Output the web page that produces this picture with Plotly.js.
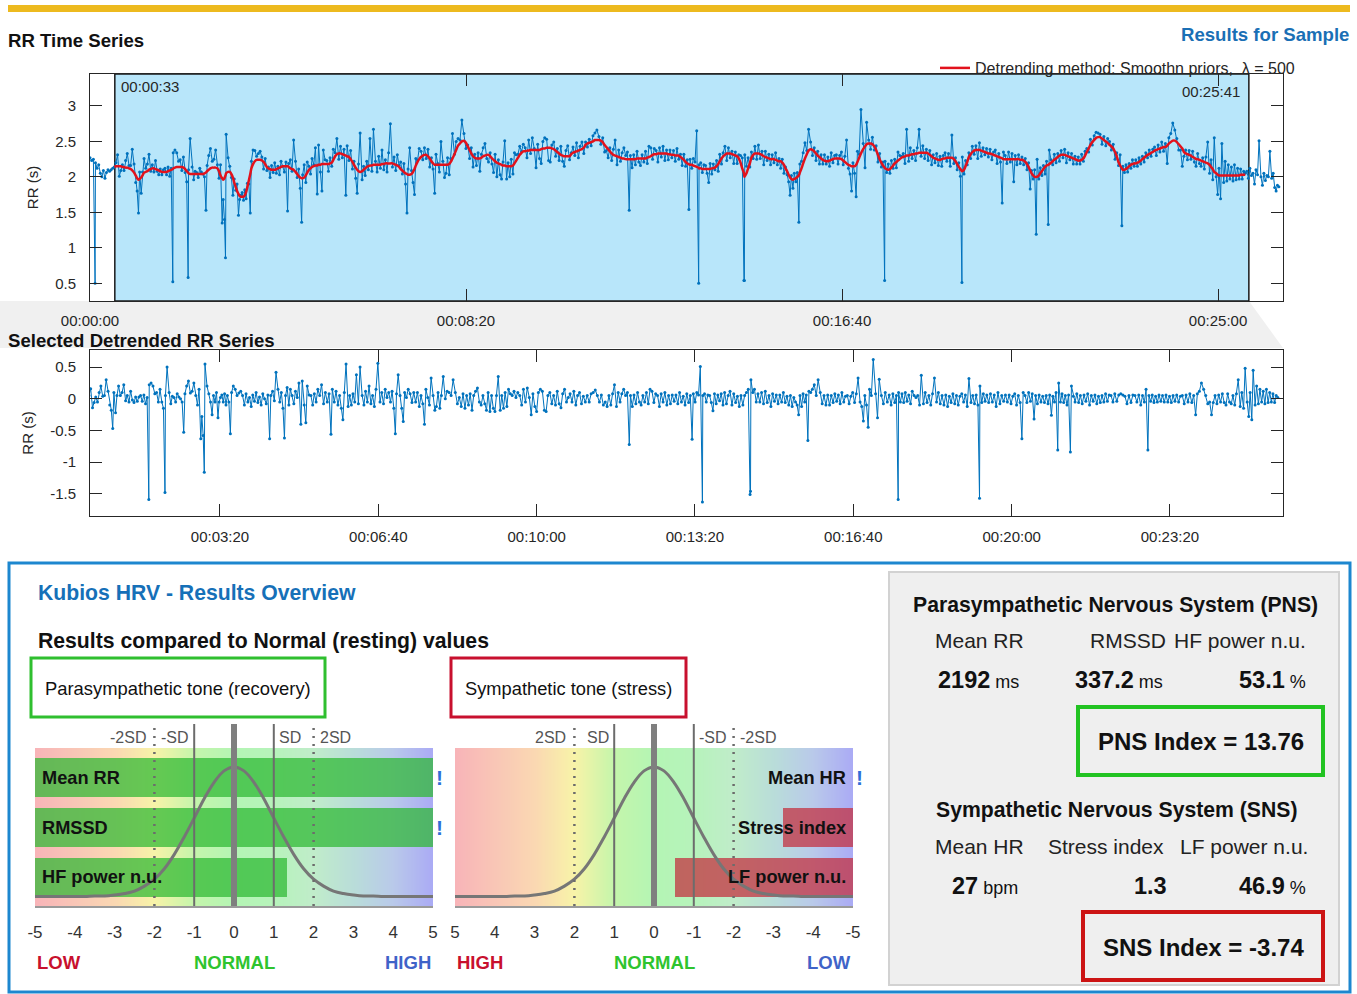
<!DOCTYPE html>
<html>
<head>
<meta charset="utf-8">
<script src="https://cdn.plot.ly/plotly-3.0.1.min.js"></script>
<style>
html,body{margin:0;padding:0;background:#ffffff;}
#chart{width:1357px;height:994px;}
</style>
</head>
<body>
<div id="chart"></div>
<script>
// ---------------- DATA ----------------
// RR intervals (s) before the selected analysis window
const rrPre = [2.27,2.23,2.25,0.50,2.20,2.12,2.17,2.05,2.00,2.09,1.98,2.06,2.10,2.08,2.10,2.12];
// RR intervals (s) inside the selected window 00:00:33 - 00:25:41
const rrSelected = [
2.14,2.20,2.31,2.01,2.09,2.17,2.09,2.23,2.33,2.16,
2.16,2.39,2.18,1.92,1.80,1.49,2.07,1.77,2.07,2.26,2.12,
2.18,2.32,2.08,2.17,2.07,2.23,2.08,2.03,2.11,2.03,2.10,
2.12,2.03,2.14,2.01,2.12,0.52,2.34,2.38,2.34,2.22,
2.24,2.09,2.28,2.06,1.93,0.58,2.10,2.54,2.14,1.96,2.08,
2.06,1.99,2.12,2.07,2.04,2.00,1.53,2.16,2.30,2.40,2.22,
2.25,2.38,2.17,1.98,2.17,1.35,1.68,1.40,0.86,2.60,
2.27,2.15,1.99,1.74,1.97,1.81,1.90,1.46,1.68,1.74,1.78,
1.67,1.82,1.69,1.91,1.90,1.49,2.22,2.38,2.37,2.29,2.33,
2.36,2.28,2.11,2.26,2.09,2.14,1.99,2.16,2.06,2.20,
2.05,2.15,2.03,2.22,2.15,2.07,2.21,1.52,2.19,2.24,2.08,
2.52,2.22,1.99,2.11,1.84,1.36,2.03,2.17,1.92,2.21,
2.15,2.04,2.26,2.17,2.41,1.76,2.45,2.07,1.80,2.38,2.24,
2.23,2.08,2.27,2.15,2.39,2.34,2.54,2.25,2.43,2.27,
2.39,1.74,2.44,2.23,2.37,2.11,2.22,1.98,1.77,2.18,
2.62,1.96,2.15,2.02,2.22,2.10,2.54,2.08,2.67,2.22,
2.07,2.29,2.12,2.38,2.10,2.24,2.07,2.34,2.75,2.14,
2.28,2.09,2.31,2.16,2.21,2.04,2.19,1.90,1.49,2.11,
2.41,2.09,1.92,1.75,2.26,2.23,2.40,2.36,2.24,2.41,
2.26,2.39,2.14,2.27,2.11,1.77,2.32,2.19,2.07,2.50,
2.22,1.99,2.05,2.27,2.03,2.26,2.61,2.32,2.50,2.54,
2.52,2.80,2.61,2.40,2.45,2.26,2.41,2.14,2.32,
2.16,2.34,2.08,2.32,2.41,2.47,2.26,2.21,2.34,
2.18,2.06,2.32,2.00,2.24,2.03,1.97,2.21,2.51,1.97,
2.20,2.00,2.25,2.04,2.34,2.31,2.32,2.43,2.36,2.46,
2.41,2.27,2.52,2.33,2.55,2.40,2.13,2.46,2.26,
2.19,2.50,2.55,2.53,2.23,2.21,2.45,2.49,2.29,
2.40,2.23,2.43,2.22,2.15,2.37,2.44,2.24,2.34,
2.42,2.30,2.48,2.27,2.43,2.49,2.33,2.49,2.42,
2.53,2.44,2.58,2.62,2.66,2.57,2.46,2.55,2.35,
2.37,2.27,2.41,2.23,2.39,2.52,2.17,2.38,2.22,2.34,
2.41,2.30,2.35,1.53,2.30,2.13,2.31,2.17,2.36,2.21,
2.16,2.31,2.21,2.36,2.19,2.43,2.41,2.25,2.40,
2.37,2.21,2.41,2.28,2.43,2.23,2.38,2.24,2.38,2.27,
2.37,2.22,2.40,2.25,2.32,2.16,2.32,2.15,2.24,1.54,
2.25,2.12,2.26,2.21,2.65,0.50,2.17,2.20,2.06,2.17,
2.16,2.05,1.92,2.19,2.04,2.18,2.10,2.23,2.08,2.32,
2.18,2.34,2.43,2.23,2.41,2.27,2.36,2.19,2.35,2.19,
2.31,2.30,2.27,0.54,0.54,2.31,2.15,2.27,2.14,2.35,
2.26,2.43,2.25,2.45,2.26,2.36,2.17,2.36,2.23,2.32,
2.17,2.31,2.20,2.34,2.17,2.26,2.12,2.25,2.05,2.14,
2.03,1.93,1.74,2.02,1.84,2.05,1.93,2.06,1.36,2.18,
2.22,2.34,2.48,2.37,2.67,2.49,2.30,2.41,2.23,2.36,
2.18,2.31,2.18,2.31,2.18,2.28,2.15,2.34,2.20,2.30,
2.31,2.18,2.30,2.35,2.17,2.29,2.52,2.12,2.04,1.80,
2.20,2.05,1.72,2.36,2.32,2.95,2.47,2.13,2.77,2.52,
2.39,2.56,2.38,2.44,2.21,2.33,2.14,2.21,0.54,2.22,
2.06,2.18,2.05,2.23,2.12,2.25,2.13,2.35,2.30,2.29,
2.33,2.19,2.67,2.22,2.41,2.26,2.37,2.23,2.41,2.67,
2.29,2.44,2.26,2.39,2.23,2.37,2.17,2.31,2.20,2.33,
2.16,2.29,2.15,2.30,2.34,2.22,2.33,2.15,2.59,2.19,
2.27,2.10,2.20,2.01,0.51,2.28,2.04,2.23,2.17,2.34,
2.26,2.43,2.32,2.44,2.26,2.48,2.29,2.41,2.31,2.40,
2.28,2.39,2.24,2.35,2.38,2.19,2.33,2.21,1.63,2.35,
2.30,2.19,2.35,2.21,2.33,1.93,2.30,2.17,2.31,2.19,
2.28,2.17,2.26,2.10,2.20,1.83,2.09,1.97,2.10,1.19,
2.25,1.97,2.13,2.02,2.16,2.04,2.22,1.33,2.38,2.24,
2.17,2.32,2.20,2.33,2.22,2.37,2.27,2.39,2.20,2.34,
2.24,2.33,2.18,2.29,2.18,2.28,2.18,2.32,2.22,2.36,
2.40,2.35,2.53,2.45,2.58,2.63,2.62,2.60,2.46,
2.57,2.44,2.54,2.50,2.38,2.46,2.25,2.34,2.16,
2.31,1.31,2.15,2.06,2.17,2.07,2.19,2.12,2.24,2.15,
2.24,2.15,2.27,2.18,2.29,2.21,2.34,2.27,2.38,2.29,
2.39,2.42,2.30,2.45,2.35,2.49,2.36,2.47,2.19,
2.55,2.61,2.76,2.66,2.54,2.38,2.38,2.15,2.29,
2.38,2.24,2.37,2.25,2.36,2.21,2.15,2.33,2.19,
2.15,2.27,2.11,2.28,2.49,2.05,2.24,1.96,2.55,
2.00,1.75,2.12,1.69,2.47,1.92,2.22,1.94,2.17,1.97,
2.14,1.94,2.17,1.96,2.12,1.97,2.11,1.97,2.08,2.05
];
// Smoothness-priors trend (s) at each selected beat
const trendSelected = [
2.14,2.15,2.15,2.15,2.15,2.14,2.14,2.13,2.13,2.12,
2.11,2.09,2.06,2.02,1.98,1.96,1.97,1.99,2.02,2.06,2.07,
2.08,2.10,2.11,2.12,2.12,2.11,2.10,2.09,2.08,2.07,2.07,
2.07,2.07,2.08,2.09,2.10,2.11,2.12,2.13,2.14,2.14,
2.14,2.14,2.13,2.11,2.08,2.06,2.05,2.04,2.04,2.04,2.04,
2.04,2.04,2.04,2.04,2.04,2.05,2.06,2.08,2.10,2.12,2.13,
2.13,2.13,2.12,2.08,2.02,1.98,1.96,1.98,2.02,2.05,
2.07,2.07,2.04,1.99,1.92,1.86,1.80,1.76,1.73,1.72,1.72,
1.72,1.74,1.79,1.86,1.95,2.04,2.12,2.18,2.22,2.24,2.24,
2.24,2.23,2.21,2.18,2.14,2.12,2.11,2.10,2.10,2.10,
2.11,2.12,2.13,2.14,2.15,2.15,2.15,2.15,2.14,2.12,2.11,
2.10,2.07,2.04,2.01,1.99,1.98,1.98,1.99,2.02,2.06,
2.10,2.12,2.14,2.15,2.16,2.16,2.17,2.17,2.18,2.18,2.18,
2.18,2.18,2.19,2.20,2.24,2.29,2.32,2.33,2.33,2.32,
2.31,2.30,2.29,2.28,2.25,2.21,2.17,2.13,2.10,2.08,
2.07,2.08,2.10,2.12,2.14,2.15,2.16,2.16,2.17,2.17,
2.17,2.17,2.17,2.18,2.18,2.19,2.19,2.19,2.19,2.19,
2.18,2.17,2.16,2.14,2.11,2.09,2.07,2.05,2.04,2.03,
2.03,2.04,2.07,2.11,2.16,2.21,2.25,2.28,2.30,2.31,
2.31,2.29,2.26,2.22,2.19,2.17,2.17,2.17,2.17,2.17,
2.17,2.17,2.17,2.17,2.18,2.21,2.26,2.32,2.38,2.44,
2.47,2.50,2.51,2.48,2.43,2.38,2.33,2.29,2.27,
2.26,2.26,2.26,2.27,2.29,2.30,2.31,2.31,2.29,
2.26,2.24,2.22,2.20,2.19,2.18,2.17,2.16,2.16,2.15,
2.15,2.15,2.15,2.16,2.19,2.23,2.27,2.31,2.34,2.36,
2.36,2.37,2.37,2.38,2.38,2.38,2.38,2.38,2.38,
2.39,2.40,2.40,2.41,2.41,2.41,2.40,2.39,2.37,
2.35,2.33,2.31,2.30,2.29,2.29,2.29,2.29,2.32,
2.34,2.35,2.36,2.37,2.38,2.39,2.41,2.45,2.47,
2.48,2.49,2.50,2.52,2.52,2.52,2.51,2.49,2.45,
2.42,2.39,2.36,2.33,2.31,2.30,2.29,2.28,2.27,2.26,
2.26,2.25,2.25,2.25,2.25,2.25,2.25,2.25,2.26,2.26,
2.26,2.26,2.26,2.26,2.27,2.28,2.29,2.31,2.32,
2.32,2.33,2.33,2.33,2.33,2.33,2.33,2.32,2.32,2.31,
2.31,2.30,2.30,2.30,2.28,2.26,2.24,2.21,2.19,2.18,
2.17,2.17,2.16,2.15,2.14,2.13,2.12,2.12,2.11,2.11,
2.11,2.11,2.11,2.11,2.12,2.12,2.13,2.15,2.18,2.22,
2.26,2.29,2.31,2.33,2.33,2.33,2.32,2.31,2.30,2.29,
2.26,2.20,2.12,2.05,2.00,2.01,2.05,2.12,2.19,2.27,
2.31,2.33,2.33,2.33,2.32,2.31,2.29,2.28,2.27,2.26,
2.25,2.25,2.25,2.24,2.23,2.22,2.22,2.20,2.17,2.12,
2.08,2.03,1.99,1.97,1.96,1.97,1.98,2.00,2.02,2.06,
2.12,2.19,2.26,2.32,2.37,2.39,2.38,2.36,2.33,2.30,
2.28,2.26,2.24,2.23,2.22,2.22,2.23,2.24,2.25,2.26,
2.26,2.26,2.26,2.25,2.23,2.21,2.19,2.17,2.16,2.15,
2.15,2.15,2.17,2.21,2.27,2.33,2.39,2.43,2.46,2.47,
2.47,2.46,2.43,2.38,2.31,2.25,2.20,2.16,2.13,2.12,
2.11,2.10,2.11,2.13,2.16,2.19,2.21,2.23,2.25,2.27,
2.28,2.29,2.30,2.30,2.31,2.32,2.32,2.33,2.33,2.34,
2.34,2.34,2.34,2.34,2.33,2.31,2.29,2.27,2.26,2.25,
2.24,2.24,2.25,2.26,2.26,2.27,2.27,2.27,2.27,2.25,
2.22,2.18,2.14,2.11,2.08,2.08,2.10,2.15,2.21,2.28,
2.32,2.35,2.37,2.38,2.38,2.38,2.37,2.36,2.35,2.34,
2.33,2.33,2.32,2.31,2.30,2.29,2.28,2.27,2.26,2.25,
2.25,2.25,2.25,2.25,2.25,2.25,2.25,2.25,2.25,2.24,
2.24,2.23,2.21,2.18,2.14,2.09,2.05,2.02,2.00,2.00,
2.00,2.02,2.05,2.08,2.11,2.14,2.16,2.17,2.18,2.20,
2.22,2.24,2.26,2.28,2.30,2.31,2.31,2.31,2.30,2.29,
2.28,2.27,2.26,2.25,2.24,2.23,2.23,2.24,2.26,2.30,
2.35,2.40,2.45,2.49,2.52,2.55,2.56,2.56,2.54,
2.52,2.50,2.48,2.45,2.43,2.40,2.35,2.29,2.21,
2.16,2.12,2.10,2.10,2.11,2.13,2.15,2.17,2.18,2.19,
2.19,2.20,2.21,2.23,2.25,2.27,2.29,2.31,2.32,2.34,
2.35,2.37,2.38,2.39,2.40,2.41,2.42,2.42,2.44,
2.47,2.49,2.51,2.51,2.49,2.46,2.43,2.40,2.35,
2.33,2.32,2.31,2.30,2.28,2.27,2.25,2.25,2.24,
2.23,2.22,2.21,2.20,2.19,2.17,2.14,2.11,2.07,
2.05,2.03,2.02,2.02,2.02,2.02,2.02,2.02,2.02,2.02,
2.02,2.02,2.02,2.02,2.02,2.02,2.03,2.03,2.03,2.03
];
// RR intervals (s) after the selected window
const rrPost = [2.08,1.98,2.12,2.02,2.05,1.90,2.10,2.03,2.51,2.00,1.88,2.05,1.95,2.02,2.00,2.36,1.98,2.05,1.85,1.80,1.88,1.86];

const selectionStart = 33;      // s
const selectionEnd = 1541;      // s
const selectionLabels = ['00:00:33', '00:25:41'];
const trendLegend = 'Detrending method: Smoothn priors,  \u03bb = 500';

const topTickSeconds = [0, 500, 1000, 1500];
const topTickLabels = ['00:00:00', '00:08:20', '00:16:40', '00:25:00'];
const rrTickValues = [0.5, 1, 1.5, 2, 2.5, 3];
const rrTickLabels = ['0.5', '1', '1.5', '2', '2.5', '3'];
const bottomTickSeconds = [200, 400, 600, 800, 1000, 1200, 1400];
const bottomTickLabels = ['00:03:20', '00:06:40', '00:10:00', '00:13:20', '00:16:40', '00:20:00', '00:23:20'];
const detTickValues = [-1.5, -1, -0.5, 0, 0.5];
const detTickLabels = ['-1.5', '-1', '-0.5', '0', '0.5'];

// Results overview (scores in SD units relative to normal resting values)
const gaugeTicks = [-5, -4, -3, -2, -1, 0, 1, 2, 3, 4, 5];
const gaugeTickLabels = ['-5', '-4', '-3', '-2', '-1', '0', '1', '2', '3', '4', '5'];
const pnsParams = ['Mean RR', 'RMSSD', 'HF power n.u.'];
const pnsScores = [5.6, 5.4, 1.33];
const snsParams = ['Mean HR', 'Stress index', 'LF power n.u.'];
const snsScores = [-5.6, -3.24, -0.53];
const sdMarks = [-2, -1, 0, 1, 2];
const sdLabels = ['-2SD', '-SD', '', 'SD', '2SD'];
const normalCurveX = [-5,-4.75,-4.5,-4.25,-4,-3.75,-3.5,-3.25,-3,-2.75,-2.5,-2.25,-2,-1.75,-1.5,-1.25,-1,-0.75,-0.5,-0.25,0,
  0.25,0.5,0.75,1,1.25,1.5,1.75,2,2.25,2.5,2.75,3,3.25,3.5,3.75,4,4.25,4.5,4.75,5];
const normalCurveY = [-0.39,-0.39,-0.39,-0.39,-0.39,-0.39,-0.38,-0.38,-0.36,-0.33,-0.28,-0.18,-0.04,0.17,0.46,0.81,1.19,1.58,1.91,2.14,2.22,
  2.14,1.91,1.58,1.19,0.81,0.46,0.17,-0.04,-0.18,-0.28,-0.33,-0.36,-0.38,-0.38,-0.39,-0.39,-0.39,-0.39,-0.39,-0.39];
const gradientColors = ['#f8b4b8','#f9c6b6','#fad8b2','#f8f3a8','#c4f5ab','#b4f5b4','#b6f3bb','#c0ecca','#b9ddd9','#b9c9ea','#aaaaf5'];

const pnsSummaryLabels = ['Mean RR', 'RMSSD', 'HF power n.u.'];
const pnsSummaryValues = ['2192', '337.2', '53.1'];
const pnsSummaryUnits = ['ms', 'ms', '%'];
const pnsIndex = '13.76';
const snsSummaryLabels = ['Mean HR', 'Stress index', 'LF power n.u.'];
const snsSummaryValues = ['27', '1.3', '46.9'];
const snsSummaryUnits = ['bpm', '', '%'];
const snsIndex = '-3.74';

// ---------------- DERIVED ----------------
const nSel = Math.min(rrSelected.length, trendSelected.length);
const allRR = rrPre.concat(rrSelected, rrPost);
let acc = 0;
const allT = allRR.map(v => { const cur = acc; acc += v; return cur; });
const selT = allT.slice(rrPre.length, rrPre.length + nSel);
const trendUsed = trendSelected.slice(0, nSel);
const detrended = rrSelected.slice(0, nSel).map((v, i) => v - trendSelected[i]);

// ---------------- HELPERS ----------------
const W = 1357, H = 994;
const px = x => x / W;
const py = y => 1 - y / H;
const SANS = "'Liberation Sans', Arial, Helvetica, sans-serif";
const AX = '#262626';
const BLUE = '#0072BD';
const RED = '#e2121c';
const GAUGE_YRANGE = [-0.58, 2.6];

const annotations = [];
const shapes = [];
function addText(text, x, y, anchor, font, extra) {
  annotations.push(Object.assign({
    text: text, x: px(x), y: py(y), xref: 'paper', yref: 'paper',
    xanchor: anchor || 'left', yanchor: 'middle', showarrow: false,
    font: Object.assign({ family: SANS, size: 15, color: AX }, font || {})
  }, extra || {}));
}
function rectPx(x0, y0, x1, y1, fill, lineColor, lineWidth, layer) {
  shapes.push({
    type: 'rect', xref: 'paper', yref: 'paper',
    x0: px(x0), x1: px(x1), y0: py(y1), y1: py(y0),
    fillcolor: fill, line: { color: lineColor || 'rgba(0,0,0,0)', width: lineWidth || 0 },
    layer: layer || 'above'
  });
}

// ---------------- TRACES ----------------
const traces = [];
traces.push({
  type: 'scatter', mode: 'lines+markers', x: allT, y: allRR, xaxis: 'x', yaxis: 'y',
  line: { color: BLUE, width: 1 }, marker: { color: BLUE, size: 3 },
  showlegend: false, hoverinfo: 'skip'
});
traces.push({
  type: 'scatter', mode: 'lines', x: selT, y: trendUsed, xaxis: 'x', yaxis: 'y',
  line: { color: RED, width: 2.5, shape: 'spline', smoothing: 0.8 },
  name: trendLegend, showlegend: true, hoverinfo: 'skip'
});
traces.push({
  type: 'scatter', mode: 'lines+markers', x: selT, y: detrended, xaxis: 'x2', yaxis: 'y2',
  line: { color: BLUE, width: 1 }, marker: { color: BLUE, size: 3 },
  showlegend: false, hoverinfo: 'skip'
});

const gradIdx = gradientColors.map((c, i) => i);
const gradScale = gradientColors.map((c, i) => [i / (gradientColors.length - 1), c]);
const rowPos = params => params.map((p, i) => params.length - 1 - i);

function addGauge(xa, ya, heatX, params, scores, barColor) {
  traces.push({
    type: 'heatmap', x: heatX, y: GAUGE_YRANGE, z: [gradIdx, gradIdx],
    zmin: 0, zmax: gradientColors.length - 1, colorscale: gradScale, zsmooth: 'best',
    showscale: false, hoverinfo: 'skip', xaxis: xa, yaxis: ya
  });
  traces.push({
    type: 'bar', orientation: 'h', y: rowPos(params), x: scores.map(s => s + 5), base: -5,
    width: 0.78, marker: { color: barColor, line: { width: 0 } },
    showlegend: false, hoverinfo: 'skip', xaxis: xa, yaxis: ya
  });
  traces.push({
    type: 'scatter', mode: 'lines', x: normalCurveX, y: normalCurveY,
    line: { color: '#767676', width: 3, shape: 'spline' },
    showlegend: false, hoverinfo: 'skip', xaxis: xa, yaxis: ya
  });
}
addGauge('x3', 'y3', gaugeTicks, pnsParams, pnsScores, 'rgba(45,185,50,0.72)');
addGauge('x4', 'y4', gaugeTicks.slice().reverse(), snsParams, snsScores, 'rgba(195,45,60,0.72)');

// ---------------- SHAPES ----------------
rectPx(8, 5, 1350, 12, '#edba1f', null, 0, 'below');
shapes.push({
  type: 'path', xref: 'paper', yref: 'paper', layer: 'below',
  path: 'M ' + px(0) + ',' + py(301) + ' L ' + px(1249) + ',' + py(301) + ' L ' + px(1283) + ',' + py(348) + ' L ' + px(0) + ',' + py(348) + ' Z',
  fillcolor: '#f0f0f0', line: { width: 0 }
});
shapes.push({
  type: 'rect', xref: 'x', yref: 'y domain', x0: selectionStart, x1: selectionEnd, y0: 0, y1: 1,
  fillcolor: '#b8e6fa', line: { color: '#1a1a1a', width: 1.5 }, layer: 'below'
});
rectPx(9, 563, 1350, 992, 'rgba(0,0,0,0)', '#1d87cf', 3, 'below');
rectPx(889, 572, 1339, 985, '#efefef', '#d2d2d2', 2, 'below');
rectPx(31, 658, 325, 717, '#ffffff', '#2fbf2f', 3, 'below');
rectPx(451, 658, 686, 717, '#ffffff', '#c8102e', 3, 'below');
rectPx(1078, 707, 1323, 775, 'rgba(0,0,0,0)', '#22c322', 4, 'above');
rectPx(1083, 912, 1323, 980, 'rgba(0,0,0,0)', '#cc1414', 4, 'above');

function addSdLines(xa) {
  sdMarks.forEach(v => {
    const a = Math.abs(v);
    shapes.push({
      type: 'line', xref: xa, yref: 'paper', x0: v, x1: v,
      y0: py(906), y1: py(a === 2 ? 728 : 724), layer: 'above',
      line: {
        color: a === 0 ? '#7f7f7f' : '#6c6c6c',
        width: a === 0 ? 6 : (a === 1 ? 2 : 2.5),
        dash: a === 2 ? '2px,6px' : 'solid'
      }
    });
  });
}
addSdLines('x3');
addSdLines('x4');

// ---------------- TEXT ----------------
addText('<b>RR Time Series</b>', 6, 40, 'left', { size: 18.6, color: '#111' });
addText('<b>Results for Sample</b>', 1351, 34, 'right', { size: 18.6, color: '#1a6fb5' });
addText('<b>Selected Detrended RR Series</b>', 6, 340, 'left', { size: 18.6, color: '#111' });
annotations.push({ text: selectionLabels[0], xref: 'x', yref: 'paper', x: selectionStart, y: py(86),
  xanchor: 'left', yanchor: 'middle', xshift: 4, showarrow: false, font: { family: SANS, size: 15, color: AX } });
annotations.push({ text: selectionLabels[1], xref: 'x', yref: 'paper', x: selectionEnd, y: py(92),
  xanchor: 'right', yanchor: 'middle', xshift: -7, showarrow: false, font: { family: SANS, size: 15, color: AX } });

addText('<b>Kubios HRV - Results Overview</b>', 36, 592, 'left', { size: 21.2, color: '#1670b8' });
addText('<b>Results compared to Normal (resting) values</b>', 36, 641, 'left', { size: 21.2, color: '#111' });
addText('Parasympathetic tone (recovery)', 43, 688, 'left', { size: 18.4, color: '#111' });
addText('Sympathetic tone (stress)', 463, 688, 'left', { size: 18.3, color: '#111' });

function gaugeText(xa, params, scores, reversed) {
  const rows = rowPos(params);
  const ya = 'y' + xa.slice(1);
  params.forEach((p, i) => {
    annotations.push({ text: '<b>' + p + '</b>', xref: xa, yref: ya,
      x: -5, y: rows[i], xanchor: reversed ? 'right' : 'left', yanchor: 'middle',
      xshift: reversed ? -5 : 5, showarrow: false, font: { family: SANS, size: 18.2, color: '#111' } });
    const off = reversed ? scores[i] < -5 : scores[i] > 5;
    if (off) {
      annotations.push({ text: '<b>!</b>', xref: xa, yref: ya,
        x: reversed ? -5 : 5, y: rows[i], xanchor: 'left', yanchor: 'middle', xshift: 1,
        showarrow: false, font: { family: SANS, size: 21, color: '#2f6fd8' } });
    }
  });
  sdMarks.forEach((v, i) => {
    if (!sdLabels[i]) return;
    const outerLeft = reversed ? v > 0 : v < 0;
    annotations.push({ text: sdLabels[i],
      xref: xa, yref: 'paper', x: v, y: py(737),
      xanchor: outerLeft ? 'right' : 'left', yanchor: 'middle',
      xshift: outerLeft ? (Math.abs(v) === 2 ? -6 : -3) : (Math.abs(v) === 2 ? 4 : 3),
      showarrow: false, font: { family: SANS, size: 16, color: '#555' } });
  });
  const leftWord = reversed ? 'HIGH' : 'LOW';
  const rightWord = reversed ? 'LOW' : 'HIGH';
  annotations.push({ text: '<b>' + leftWord + '</b>', xref: xa, yref: 'paper', x: reversed ? 5 : -5, y: py(962),
    xanchor: 'left', yanchor: 'middle', showarrow: false, font: { family: SANS, size: 18.5, color: '#c8102e' } });
  annotations.push({ text: '<b>NORMAL</b>', xref: xa, yref: 'paper', x: 0, y: py(962),
    xanchor: 'center', yanchor: 'middle', showarrow: false, font: { family: SANS, size: 18.5, color: '#2ec42e' } });
  annotations.push({ text: '<b>' + rightWord + '</b>', xref: xa, yref: 'paper', x: reversed ? -5 : 5, y: py(962),
    xanchor: 'right', yanchor: 'middle', showarrow: false, font: { family: SANS, size: 18.5, color: '#3f63c8' } });
}
gaugeText('x3', pnsParams, pnsScores, false);
gaugeText('x4', snsParams, snsScores, true);

// Summary panel
const valFont = { family: SANS, size: 18, color: '#111' };
const hdFont = { family: SANS, size: 21.2, color: '#111' };
const lbFont = { family: SANS, size: 21, color: '#222' };
const vv = (v, u) => '<b><span style="font-size:23.5px">' + v + '</span></b>' + (u ? '&nbsp;' + u : '');
addText('<b>Parasympathetic Nervous System (PNS)</b>', 1115, 605, 'center', hdFont);
addText(pnsSummaryLabels[0], 979, 640, 'center', lbFont);
addText(pnsSummaryLabels[1], 1128, 640, 'center', lbFont);
addText(pnsSummaryLabels[2], 1308, 640, 'right', lbFont);
addText(vv(pnsSummaryValues[0], pnsSummaryUnits[0]), 978, 680, 'center', valFont);
addText(vv(pnsSummaryValues[1], pnsSummaryUnits[1]), 1119, 680, 'center', valFont);
addText(vv(pnsSummaryValues[2], pnsSummaryUnits[2]), 1308, 680, 'right', valFont);
addText('<b>PNS Index = ' + pnsIndex + '</b>', 1201, 741, 'center', { family: SANS, size: 24, color: '#111' });
addText('<b>Sympathetic Nervous System (SNS)</b>', 1116, 810, 'center', hdFont);
addText(snsSummaryLabels[0], 979, 846, 'center', lbFont);
addText(snsSummaryLabels[1], 1106, 846, 'center', lbFont);
addText(snsSummaryLabels[2], 1310, 846, 'right', lbFont);
addText(vv(snsSummaryValues[0], snsSummaryUnits[0]), 985, 886, 'center', valFont);
addText(vv(snsSummaryValues[1], snsSummaryUnits[1]), 1150, 886, 'center', valFont);
addText(vv(snsSummaryValues[2], snsSummaryUnits[2]), 1308, 886, 'right', valFont);
addText('<b>SNS Index = ' + snsIndex + '</b>', 1203, 947, 'center', { family: SANS, size: 24, color: '#111' });

// ---------------- AXES ----------------
function timeAxis(range, tv, tt, anchor, standoff) {
  return {
    domain: [px(90), px(1283)], range: range, anchor: anchor,
    tickmode: 'array', tickvals: tv, ticktext: tt,
    ticks: 'inside', ticklen: 12, tickwidth: 1, tickcolor: AX,
    showline: true, linecolor: AX, linewidth: 1, mirror: 'ticks',
    showgrid: false, zeroline: false, ticklabelstandoff: standoff,
    tickfont: { family: SANS, size: 15, color: AX }, fixedrange: true
  };
}
function valueAxis(domain, range, tv, tt, anchor) {
  return {
    domain: domain, range: range, anchor: anchor,
    tickmode: 'array', tickvals: tv, ticktext: tt,
    ticks: 'inside', ticklen: 12, tickwidth: 1, tickcolor: AX,
    showline: true, linecolor: AX, linewidth: 1, mirror: 'ticks',
    showgrid: false, zeroline: false, ticklabelstandoff: 10,
    tickfont: { family: SANS, size: 15, color: AX },
    title: { text: 'RR (s)', font: { family: SANS, size: 15, color: AX }, standoff: 12 },
    fixedrange: true
  };
}
function gaugeX(domain, range, anchor) {
  return {
    domain: domain, range: range, anchor: anchor,
    tickmode: 'array', tickvals: gaugeTicks, ticktext: gaugeTickLabels,
    ticks: '', showline: true, linecolor: '#9a9a9a', linewidth: 2,
    showgrid: false, zeroline: false, ticklabelstandoff: 10,
    tickfont: { family: SANS, size: 17, color: '#333' }, fixedrange: true
  };
}
function gaugeY(anchor) {
  return { domain: [py(906), py(748)], range: GAUGE_YRANGE, anchor: anchor, visible: false, fixedrange: true };
}

const layout = {
  width: W, height: H, autosize: false,
  margin: { l: 0, r: 0, t: 0, b: 0, pad: 0 },
  paper_bgcolor: '#ffffff', plot_bgcolor: '#ffffff',
  font: { family: SANS, color: AX },
  hovermode: false, bargap: 0,
  showlegend: true,
  legend: {
    x: px(935), y: py(68), xanchor: 'left', yanchor: 'middle',
    bgcolor: 'rgba(0,0,0,0)', borderwidth: 0,
    font: { family: SANS, size: 16, color: AX }
  },
  xaxis: timeAxis([0, 1586.4], topTickSeconds, topTickLabels, 'y', 6),
  yaxis: valueAxis([py(301), py(74)], [0.25, 3.45], rrTickValues, rrTickLabels, 'x'),
  xaxis2: timeAxis([35.8, 1542.8], bottomTickSeconds, bottomTickLabels, 'y2', 7),
  yaxis2: valueAxis([py(516), py(350)], [-1.85, 0.77], detTickValues, detTickLabels, 'x2'),
  xaxis3: gaugeX([px(35), px(433)], [-5, 5], 'y3'),
  yaxis3: gaugeY('x3'),
  xaxis4: gaugeX([px(455), px(853)], [5, -5], 'y4'),
  yaxis4: gaugeY('x4'),
  shapes: shapes,
  annotations: annotations
};

Plotly.newPlot('chart', traces, layout, { displayModeBar: false, staticPlot: true });
</script>
</body>
</html>
